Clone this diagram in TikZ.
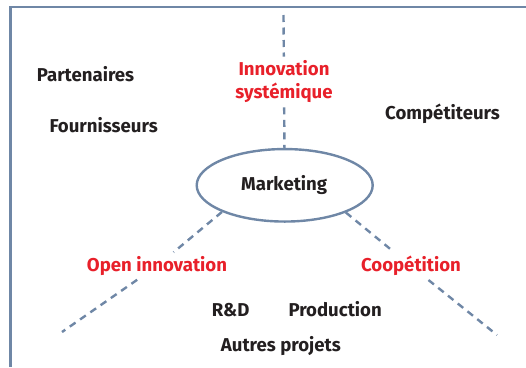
\documentclass[tikz,border=0pt]{standalone}
\usepackage{fontspec}
\setmainfont{Fira Sans}
\usetikzlibrary{shapes.geometric}
\definecolor{frameblue}{HTML}{6F87A6}
\definecolor{labelred}{HTML}{E8202A}
\definecolor{textdark}{HTML}{231F20}
\tikzset{
  lbl/.style={font=\bfseries\fontsize{18.6}{23}\selectfont, text=textdark, inner sep=0pt},
  redlbl/.style={font=\bfseries\fontsize{18.6}{23}\selectfont, text=labelred, inner sep=4pt},
  link/.style={draw=frameblue, line width=2.4pt, dash pattern=on 7pt off 5.5pt},
  hub/.style={ellipse, draw=frameblue, line width=2.4pt, minimum width=176pt, minimum height=72.5pt, inner sep=0pt}
}
\begin{document}
\begin{tikzpicture}[x=1pt, y=-1pt]
\useasboundingbox (0,0) rectangle (526,367);
% open frame: left and top edges
\draw[frameblue, line width=2.8pt] (10.5,367) -- (10.5,7) -- (526,7);

% central ellipse
\node[hub] (m) at (284.7,185.3) {};
\node[lbl, anchor=base] (mk) at (284.2,190.7) {Marketing};

% surrounding actors
\node[lbl, anchor=base west] (part) at (36.7,81.7) {Partenaires};
\node[lbl, anchor=base west] (four) at (49.3,132.7) {Fournisseurs};
\node[lbl, anchor=base west] (comp) at (385,119) {Compétiteurs};
\node[lbl, anchor=base west] (rd) at (211.7,316) {R\&D};
\node[lbl, anchor=base west] (prod) at (288.3,316) {Production};
\node[lbl, anchor=base west] (autres) at (220.7,351) {Autres projets};

% axis labels
\node[redlbl, align=center] (inno) at (284,82) {Innovation\\systémique};
\node[redlbl] (open) at (157,266) {Open innovation};
\node[redlbl] (coop) at (411,266) {Coopétition};

% free ends of the axes
\coordinate (top) at (283.5,15);
\coordinate (ll) at (62,332);
\coordinate (lr) at (497,335);

% dashed axes
\draw[link] (top) -- (inno) -- (m);
\draw[link] (m.203) -- (open) -- (ll);
\draw[link] (m.336) -- (coop) -- (lr);
\end{tikzpicture}
\end{document}
